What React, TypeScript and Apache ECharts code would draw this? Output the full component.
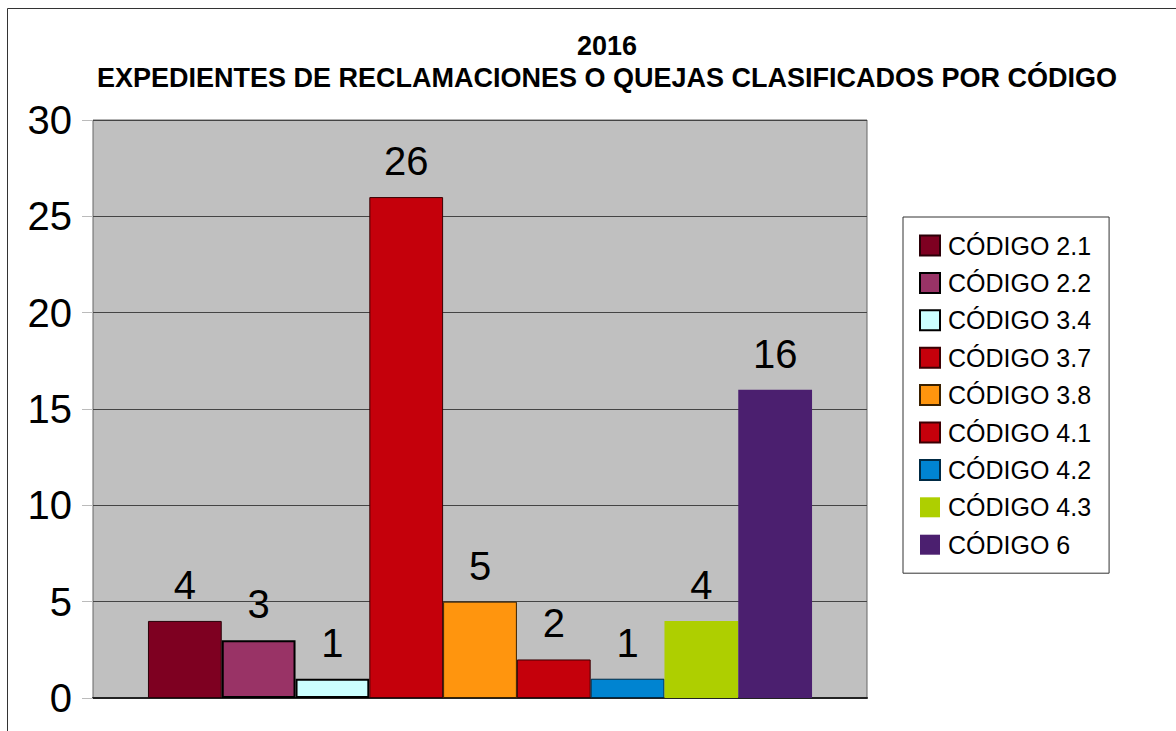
import React, { useEffect, useRef } from "react";
import * as echarts from "echarts";

const seriesNames = [
  "CÓDIGO 2.1",
  "CÓDIGO 2.2",
  "CÓDIGO 3.4",
  "CÓDIGO 3.7",
  "CÓDIGO 3.8",
  "CÓDIGO 4.1",
  "CÓDIGO 4.2",
  "CÓDIGO 4.3",
  "CÓDIGO 6",
];
const seriesValues = [4, 3, 1, 26, 5, 2, 1, 4, 16];
const seriesColors = [
  "#7E0021",
  "#993366",
  "#CCFFFF",
  "#C5000B",
  "#FF950E",
  "#C5000B",
  "#0084D1",
  "#AECF00",
  "#4B1F6F",
];
const borderColors = ["#2a0008", "#000000", "#000000", "#3a0003", "#3a2000", "#3a0003", "#002a44", "#AECF00", "#4B1F6F"];
const borderWidths = [1, 2, 2, 1, 1, 1, 1, 0, 0];
const categories = ["2016"];
const titleLines = ["2016", "EXPEDIENTES DE RECLAMACIONES O QUEJAS CLASIFICADOS POR CÓDIGO"];

const FONT = "'Liberation Sans', Arial, sans-serif";

export default function App() {
  const ref = useRef<HTMLDivElement>(null);
  useEffect(() => {
    if (!ref.current) return;
    const chart = echarts.init(ref.current, null, { renderer: "svg" });
    chart.setOption({
      animation: false,
      backgroundColor: "#ffffff",
      textStyle: { fontFamily: FONT },
      title: {
        text: titleLines.join("\n"),
        left: 602,
        textAlign: "center",
        top: 25,
        textStyle: {
          fontFamily: FONT,
          fontSize: 27,
          fontWeight: "bold",
          color: "#000",
          lineHeight: 32,
        },
      },
      graphic: [
        {
          type: "rect",
          silent: true,
          z: -10,
          shape: { x: 7.5, y: 8.5, width: 1300, height: 900 },
          style: { fill: "none", stroke: "#333", lineWidth: 1 },
        },
      ],
      legend: {
        orient: "vertical",
        left: 903,
        top: 217,
        padding: [16, 18, 16, 16],
        borderColor: "#333",
        borderWidth: 1,
        itemWidth: 20,
        itemHeight: 20,
        itemGap: 12.4,
        icon: "rect",
        textStyle: { fontFamily: FONT, fontSize: 25, color: "#000", padding: [0, 0, 0, 3] },
        data: seriesNames,
      },
      grid: {
        left: 93,
        top: 120,
        width: 774,
        height: 578,
        show: true,
        backgroundColor: "#C0C0C0",
        borderColor: "#666",
        borderWidth: 1,
      },
      xAxis: {
        type: "category",
        data: categories,
        axisLabel: { show: false },
        axisTick: { show: false },
        axisLine: { show: true, lineStyle: { color: "#222", width: 2 } },
      },
      yAxis: {
        type: "value",
        min: 0,
        max: 30,
        interval: 5,
        axisLine: { show: false },
        axisTick: { show: true, length: 11, lineStyle: { color: "#bbb" } },
        axisLabel: { fontFamily: FONT, fontSize: 40, color: "#000", margin: 21 },
        splitLine: { show: true, lineStyle: { color: "#444", width: 1 } },
      },
      series: seriesNames.map((name, i) => ({
        name,
        type: "bar",
        data: [seriesValues[i]],
        barGap: "0%",
        barCategoryGap: "14.2%",
        itemStyle: {
          color: seriesColors[i],
          borderColor: borderColors[i],
          borderWidth: borderWidths[i],
        },
        label: {
          show: true,
          position: "top",
          distance: 16,
          fontFamily: FONT,
          fontSize: 40,
          color: "#000",
        },
      })),
    });
    return () => chart.dispose();
  }, []);
  return (
    <div
      ref={ref}
      style={{ position: "absolute", left: 0, top: 0, width: 1176, height: 731 }}
    />
  );
}
